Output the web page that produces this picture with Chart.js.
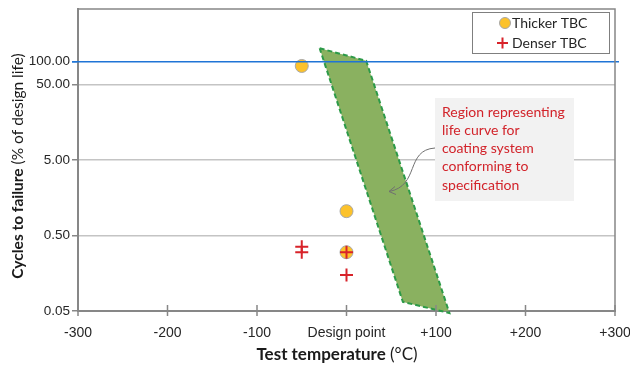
<!DOCTYPE html>
<html>
<head>
<meta charset="utf-8">
<script src="https://cdn.jsdelivr.net/npm/chart.js@4/dist/chart.umd.min.js"></script>
<style>
html,body{margin:0;padding:0;background:#fff;}
#wrap{width:630px;height:368px;position:relative;}
</style>
</head>
<body>
<div id="wrap"><canvas id="c" width="630" height="368"></canvas></div>
<script>
// ---- data ----
const xTickValues = [-300, -200, -100, 0, 100, 200, 300];
const xTickLabels = ["-300", "-200", "-100", "Design point", "+100", "+200", "+300"];
const yTickValues = [0.05, 0.5, 5, 50, 100];
const designLifeLine = 100;

const thickerX = [-50, 0, 0];
const thickerY = [88, 1.05, 0.30];

const denserX = [-50, -50, 0, 0];
const denserY = [0.355, 0.30, 0.30, 0.15];

const regionX = [-30, 22, 115, 63, -30];
const regionY = [151, 103, 0.047, 0.066, 151];

const legendLabels = ["Thicker TBC", "Denser TBC"];
const noteLines = ["Region representing", "life curve for", "coating system", "conforming to", "specification"];
const xTitleBold = "Test temperature", xTitleRest = " (°C)";
const yTitleBold = "Cycles to failure", yTitleRest = " (% of design life)";

const zip = (xs, ys) => xs.map((x, i) => ({x: x, y: ys[i]}));

const TEXT = "#262626";
const AXIS = "#878787";
const SANS = "'Liberation Sans', Arial, sans-serif";
const CAL = "Lato, 'Open Sans', sans-serif";

const decorPlugin = {
  id: 'decor',
  afterDatasetsDraw(chart) {
    const ctx = chart.ctx, a = chart.chartArea, xs = chart.scales.x, ys = chart.scales.y;
    ctx.save();
    // blue design-life line
    const yb = ys.getPixelForValue(designLifeLine);
    ctx.strokeStyle = '#1f74d6'; ctx.lineWidth = 1.6;
    ctx.beginPath(); ctx.moveTo(a.left - 6, yb); ctx.lineTo(a.right + 4, yb); ctx.stroke();
    // top/right frame
    ctx.strokeStyle = AXIS; ctx.lineWidth = 1.5;
    ctx.beginPath(); ctx.moveTo(a.left, a.top); ctx.lineTo(a.right, a.top); ctx.lineTo(a.right, a.bottom); ctx.stroke();
    // x ticks crossing axis
    ctx.lineWidth = 1.5;
    xTickValues.forEach(v => {
      const px = xs.getPixelForValue(v);
      ctx.beginPath(); ctx.moveTo(px, a.bottom - 6); ctx.lineTo(px, a.bottom + 5); ctx.stroke();
    });
    ctx.restore();
  },
  afterDraw(chart) {
    const ctx = chart.ctx, a = chart.chartArea;
    ctx.save();
    // Legend box
    const lx = 472, ly = 12, lw = 137, lh = 41;
    ctx.fillStyle = '#fff'; ctx.fillRect(lx, ly, lw, lh);
    ctx.strokeStyle = '#7f7f7f'; ctx.lineWidth = 1;
    ctx.strokeRect(lx + 0.5, ly + 0.5, lw, lh);
    ctx.font = "14px " + CAL; ctx.fillStyle = TEXT; ctx.textBaseline = 'middle'; ctx.textAlign = 'left';
    const d0 = chart.data.datasets[1], d1 = chart.data.datasets[0];
    // circle
    ctx.beginPath(); ctx.arc(505, 23, 5.5, 0, Math.PI * 2);
    ctx.fillStyle = d0.backgroundColor; ctx.fill();
    ctx.strokeStyle = d0.borderColor; ctx.lineWidth = 1; ctx.stroke();
    ctx.fillStyle = TEXT; ctx.fillText(legendLabels[0], 512, 23);
    // plus
    ctx.strokeStyle = d1.borderColor; ctx.lineWidth = 2;
    ctx.beginPath(); ctx.moveTo(497, 43); ctx.lineTo(508, 43); ctx.moveTo(502.5, 37.5); ctx.lineTo(502.5, 48.5); ctx.stroke();
    ctx.fillStyle = TEXT; ctx.fillText(legendLabels[1], 512, 43);

    // annotation box
    const bx = 435, by = 98, bw = 139, bh = 103;
    ctx.fillStyle = '#f2f2f2'; ctx.fillRect(bx, by, bw, bh);
    ctx.fillStyle = '#d2232a'; ctx.font = "14px " + CAL;
    noteLines.forEach((t, i) => ctx.fillText(t, 442, 112 + i * 18.3));
    // arrow
    ctx.strokeStyle = '#707070'; ctx.lineWidth = 1;
    ctx.beginPath(); ctx.moveTo(435, 148);
    ctx.bezierCurveTo(405, 150, 420, 186, 389, 191.5);
    ctx.stroke();
    ctx.beginPath(); ctx.moveTo(395, 186.5); ctx.lineTo(389, 191.5); ctx.lineTo(396, 194.5); ctx.stroke();

    // axis titles
    ctx.fillStyle = '#1a1a1a'; ctx.textBaseline = 'middle';
    let fb = "bold 17px " + CAL, fr = "17px " + CAL;
    ctx.font = fb; const wb = ctx.measureText(xTitleBold).width;
    ctx.font = fr; const wr = ctx.measureText(xTitleRest).width;
    let sx = 337 - (wb + wr) / 2;
    ctx.font = fb; ctx.fillText(xTitleBold, sx, 355);
    ctx.font = fr; ctx.fillText(xTitleRest, sx + wb, 355);

    fb = "bold 15.5px " + CAL; fr = "15.5px " + CAL;
    ctx.translate(18, 166); ctx.rotate(-Math.PI / 2);
    ctx.font = fb; const yb2 = ctx.measureText(yTitleBold).width;
    ctx.font = fr; const yr2 = ctx.measureText(yTitleRest).width;
    sx = -(yb2 + yr2) / 2;
    ctx.font = fb; ctx.fillText(yTitleBold, sx, 0);
    ctx.font = fr; ctx.fillText(yTitleRest, sx + yb2, 0);
    ctx.restore();
  }
};

new Chart(document.getElementById('c'), {
  type: 'scatter',
  data: {
    datasets: [
      {
        label: legendLabels[1],
        data: zip(denserX, denserY),
        pointStyle: 'cross', pointRadius: 6.5, pointBorderWidth: 2,
        borderColor: '#d8232a', backgroundColor: '#d8232a'
      },
      {
        label: legendLabels[0],
        data: zip(thickerX, thickerY),
        pointStyle: 'circle', pointRadius: 6.5, pointBorderWidth: 1,
        borderColor: '#a8a8a8', backgroundColor: '#fcc22b'
      },
      {
        label: 'Region',
        data: zip(regionX, regionY),
        showLine: true, fill: 'shape',
        pointRadius: 0, borderWidth: 2, borderDash: [5, 3],
        borderColor: '#2c9a48', backgroundColor: '#8ab160',
        tension: 0, clip: 6
      }
    ]
  },
  options: {
    responsive: false, animation: false,
    layout: {padding: {top: 9, right: 15, left: 0, bottom: 0}},
    plugins: {legend: {display: false}, tooltip: {enabled: false}},
    scales: {
      x: {
        type: 'linear', min: -300, max: 300,
        afterBuildTicks: s => { s.ticks = xTickValues.map(v => ({value: v})); },
        afterFit: s => { s.height = 57; s.paddingLeft = 0; s.paddingRight = 0; },
        ticks: {
          padding: 14, color: TEXT, font: {family: SANS, size: 14},
          maxRotation: 0, autoSkip: false,
          callback: (v) => xTickLabels[xTickValues.indexOf(v)]
        },
        grid: {drawOnChartArea: false, drawTicks: false},
        border: {color: AXIS, width: 2}
      },
      y: {
        type: 'logarithmic', min: 0.05, max: 500,
        afterBuildTicks: s => { s.ticks = yTickValues.map(v => ({value: v})); },
        afterFit: s => { s.width = 78; s.paddingTop = 0; s.paddingBottom = 0; },
        ticks: {
          padding: 2, color: TEXT, font: {family: SANS, size: 13.5}, autoSkip: false,
          callback: (v) => Number(v).toFixed(2)
        },
        grid: {
          tickLength: 6, lineWidth: 1.5,
          color: c => (c.tick && (c.tick.value === 0.05 || c.tick.value === designLifeLine)) ? 'rgba(0,0,0,0)' : '#c4c4c4',
          tickColor: c => (c.tick && c.tick.value === designLifeLine) ? '#1f74d6' : AXIS
        },
        border: {color: AXIS, width: 2}
      }
    }
  },
  plugins: [decorPlugin]
});
</script>
</body>
</html>
